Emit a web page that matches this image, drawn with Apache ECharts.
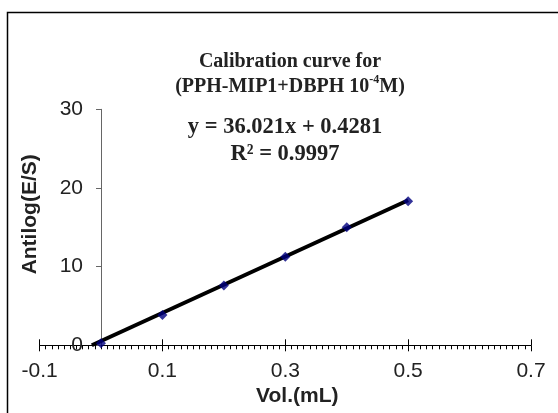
<!DOCTYPE html>
<html>
<head>
<meta charset="utf-8">
<script src="https://cdn.jsdelivr.net/npm/echarts@6/dist/echarts.min.js"></script>
<style>
  html, body { margin: 0; padding: 0; background: #fff; }
  #main { width: 558px; height: 413px; }
</style>
</head>
<body>
<div id="main"></div>
<script>
// measured points
var volumes = [0, 0.1, 0.2, 0.3, 0.4, 0.5];
var antilog = [0.25, 3.85, 7.6, 11.25, 15.0, 18.3];

// trendline ends as drawn in the picture
var trendX = [-0.015, 0.5];
var trendY = [0, 18.44];

var xTicks = ['-0.1', '0.1', '0.3', '0.5', '0.7'];
var yTicks = ['0', '10', '20', '30'];

var points = volumes.map(function (v, i) { return [v, antilog[i]]; });
var trend = trendX.map(function (v, i) { return [v, trendY[i]]; });

var gridLeft = 39.6, gridRight = 27;
// the value axis crosses at x = 0, i.e. 0.1 of the 0.8 wide x range from the left
var yAxisShift = -(558 - gridLeft - gridRight) * 0.1 / 0.8;

var myChart = echarts.init(document.getElementById('main'));
var option = {
    backgroundColor: '#fff',
    animation: false,
    title: [
        {
            text: 'Calibration curve for\n(PPH-MIP1+DBPH 10{s|-4}M)',
            left: 290,
            top: 49,
            textAlign: 'center',
            padding: 0,
            textStyle: {
                fontFamily: 'Liberation Serif',
                fontWeight: 'bold',
                fontSize: 20,
                lineHeight: 25,
                color: '#222',
                rich: {
                    s: {
                        fontFamily: 'Liberation Serif',
                        fontWeight: 'bold',
                        fontSize: 12,
                        verticalAlign: 'top',
                        color: '#222'
                    }
                }
            }
        },
        {
            text: 'y = 36.021x + 0.4281\nR² = 0.9997',
            left: 285,
            top: 114,
            textAlign: 'center',
            padding: 0,
            textStyle: {
                fontFamily: 'Liberation Serif',
                fontWeight: 'bold',
                fontSize: 22.5,
                lineHeight: 27,
                color: '#222'
            }
        }
    ],
    graphic: [
        {
            type: 'rect',
            shape: { x: 7.5, y: 12.5, width: 570, height: 420 },
            style: { fill: null, stroke: '#000', lineWidth: 1.5 },
            silent: true
        }
    ],
    grid: {
        left: gridLeft,
        right: gridRight,
        top: 109.3,
        bottom: 67.7,
        containLabel: false,
        outerBoundsMode: 'none'
    },
    xAxis: [
        {
            type: 'value',
            min: -0.1,
            max: 0.7,
            interval: 0.2,
            name: 'Vol.(mL)',
            nameLocation: 'middle',
            nameGap: 40,
            nameTextStyle: {
                fontFamily: 'Arial, Liberation Sans',
                fontWeight: 'bold',
                fontSize: 21,
                color: '#222',
                padding: [0, 0, 0, 24]
            },
            axisLine: { onZero: false, lineStyle: { color: '#000', width: 1 } },
            axisTick: { show: true, length: 6, lineStyle: { color: '#000' } },
            minorTick: { show: true, splitNumber: 20, length: 4, lineStyle: { color: '#000' } },
            splitLine: { show: false },
            axisLabel: {
                margin: 15,
                fontFamily: 'Arial, Liberation Sans',
                fontSize: 21,
                color: '#222',
                formatter: function (v) {
                    var s = v.toFixed(1);
                    return xTicks.indexOf(s) >= 0 ? s : '';
                }
            }
        },
        {
            type: 'value',
            min: -0.1,
            max: 0.7,
            interval: 0.2,
            position: 'bottom',
            axisLine: { show: false, onZero: false },
            axisTick: { show: true, inside: true, length: 6, lineStyle: { color: '#000' } },
            axisLabel: { show: false },
            splitLine: { show: false }
        }
    ],
    yAxis: {
        type: 'value',
        min: 0,
        max: 30,
        interval: 10,
        position: 'left',
        offset: yAxisShift,
        name: 'Antilog(E/S)',
        nameLocation: 'middle',
        nameGap: 60,
        nameTextStyle: {
            fontFamily: 'Arial, Liberation Sans',
            fontWeight: 'bold',
            fontSize: 21,
            color: '#222',
            padding: [0, 0, 0, 26]
        },
        axisLine: { show: true, onZero: false, lineStyle: { color: '#666', width: 1 } },
        axisTick: { show: true, length: 5, lineStyle: { color: '#666' } },
        splitLine: { show: false },
        axisLabel: {
            margin: 18,
            fontFamily: 'Arial, Liberation Sans',
            fontSize: 21,
            color: '#222',
            formatter: function (v) {
                var s = String(v);
                return yTicks.indexOf(s) >= 0 ? s : '';
            }
        }
    },
    series: [
        {
            name: 'trend',
            type: 'line',
            data: trend,
            showSymbol: false,
            symbol: 'none',
            lineStyle: { color: '#000', width: 4 },
            z: 2
        },
        {
            name: 'data',
            type: 'scatter',
            data: points,
            symbol: 'diamond',
            symbolSize: 10,
            itemStyle: { color: '#000080' },
            z: 3
        }
    ]
};
myChart.setOption(option);
</script>
</body>
</html>
